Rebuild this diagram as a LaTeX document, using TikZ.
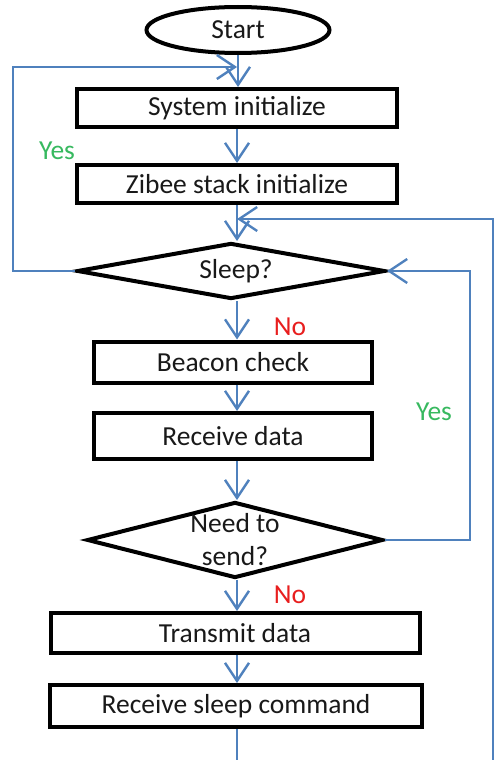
\documentclass[tikz,border=0pt]{standalone}
\usepackage{fontspec}
\setmainfont{Carlito}
\usetikzlibrary{shapes.geometric,arrows.meta}
\definecolor{flowblue}{RGB}{79,129,189}
\definecolor{yesgreen}{RGB}{55,185,95}
\definecolor{nored}{RGB}{232,30,30}
\begin{document}
\begin{tikzpicture}[x=1pt,y=-1pt,
  txt/.style={font=\fontsize{27.5}{33}\selectfont, text=black!90},
  proc/.style={draw=black, line width=4pt, rectangle, inner sep=0pt, txt},
  startbox/.style={draw=black, line width=4pt, ellipse, inner sep=0pt, txt},
  decide/.style={draw=black, line width=4pt, diamond, inner sep=0pt, txt},
  link/.style={draw=flowblue, line width=2.4pt},
  flow/.style={link, -{Straight Barb[length=18pt,width=24pt]}},
  yeslab/.style={txt, text=yesgreen},
  nolab/.style={txt, text=nored}]
\useasboundingbox (0,0) rectangle (499,760);
\fill[white] (0,0) rectangle (499,760);

\node[startbox, minimum width=183pt, minimum height=46pt] (start) at (238,30) {Start};
\node[proc, minimum width=320pt, minimum height=38pt] (sys) at (237,108) {System initialize};
\node[proc, minimum width=320pt, minimum height=38pt] (zib) at (237,184) {Zibee stack initialize};
\node[decide, minimum width=308pt, minimum height=56pt] (sleep) at (231,271) {};
\node[txt] (sleeptxt) at (236,271) {Sleep?};
\node[proc, minimum width=278pt, minimum height=41pt] (beacon) at (233,362) {Beacon check};
\node[proc, minimum width=278pt, minimum height=46pt] (recv) at (233,436) {Receive data};
\node[decide, minimum width=296pt, minimum height=76pt] (need) at (235,540) {};
\node[txt, align=center] (needtxt) at (235,540) {Need to\\send?};
\node[proc, minimum width=369pt, minimum height=40pt] (trans) at (235,633) {Transmit data};
\node[proc, minimum width=372pt, minimum height=42pt] (rsleep) at (236,706) {Receive sleep command};

\node[yeslab] (yes1) at (57,151) {Yes};
\node[nolab] (no1) at (290,327) {No};
\node[yeslab] (yes2) at (434,412) {Yes};
\node[nolab] (no2) at (290,595) {No};

\coordinate (lc1) at (13,271);
\coordinate (lc2) at (13,67);
\coordinate (rb1) at (493,760);
\coordinate (rb2) at (493,219);
\coordinate (ri) at (470,540);
\coordinate (bot) at (237,760);

\draw[flow] (start.south) -- (start.south |- sys.north);
\draw[flow] (sleep.west) -- (lc1) -- (lc2) -- (lc2 -| sys.north);
\draw[flow] (sys.south) -- (sys.south |- zib.north);
\draw[flow] (zib.south) -- (zib.south |- sleep.north);
\draw[flow] (rb1) -- (rb2) -- (rb2 -| zib.south);
\draw[flow] (sleep.south -| zib.south) -- (zib.south |- beacon.north);
\draw[flow] (beacon.south -| zib.south) -- (zib.south |- recv.north);
\draw[flow] (recv.south -| zib.south) -- (zib.south |- need.north);
\draw[flow] (need.east) -- (ri) -- (ri |- sleep.east) -- (sleep.east);
\draw[flow] (need.south -| zib.south) -- (zib.south |- trans.north);
\draw[flow] (trans.south -| zib.south) -- (zib.south |- rsleep.north);
\draw[link] (rsleep.south -| bot) -- (bot);
\end{tikzpicture}
\end{document}
